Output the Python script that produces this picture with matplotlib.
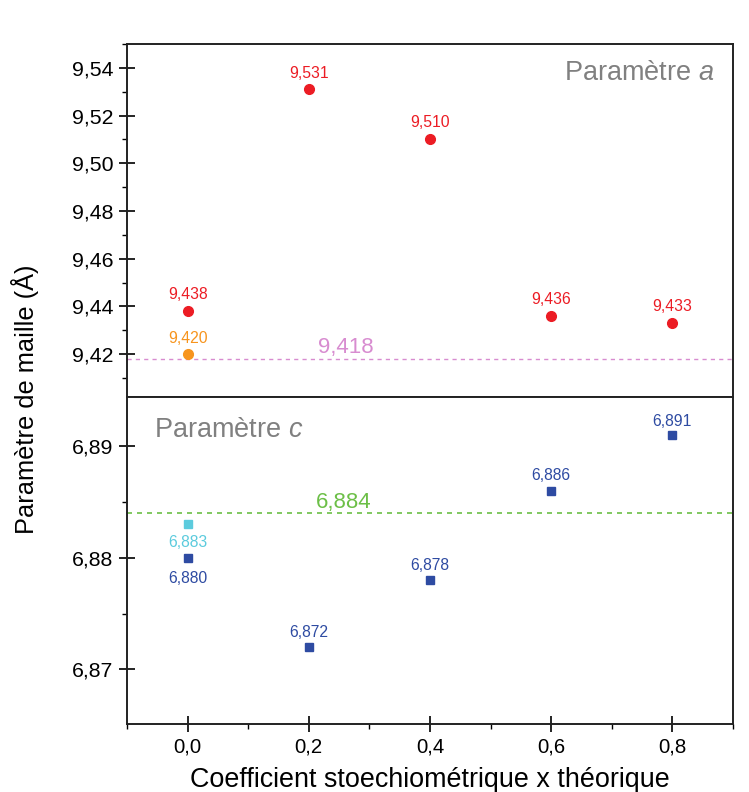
import matplotlib.pyplot as plt
from matplotlib.ticker import FuncFormatter, MultipleLocator

plt.rcParams['font.family'] = ['Liberation Sans', 'DejaVu Sans']
plt.rcParams['mathtext.fontset'] = 'custom'
plt.rcParams['mathtext.rm'] = 'Liberation Sans'
plt.rcParams['mathtext.it'] = 'Liberation Sans:italic'

# paramètre a
x_a = [0.0, 0.2, 0.4, 0.6, 0.8]
a_vals = [9.438, 9.531, 9.510, 9.436, 9.433]
x_a_ref = [0.0]
a_ref = [9.420]
a_theo = 9.418

# paramètre c
x_c = [0.0, 0.2, 0.4, 0.6, 0.8]
c_vals = [6.880, 6.872, 6.878, 6.886, 6.891]
x_c_ref = [0.0]
c_ref = [6.883]
c_theo = 6.884

x_ticks = [0.0, 0.2, 0.4, 0.6, 0.8]

# label offsets (points)
a_offsets = [9, 8, 9, 8.5, 8.5]
c_offsets = [-18.5, 7.5, 7.5, 7.5, 6.5]

red = '#ec1c24'
orange = '#f7941d'
pink = '#d88cd0'
blue = '#2e4ba2'
cyan = '#5ccbdd'
green = '#6cbf47'
gray = '#808080'

fig = plt.figure(figsize=(7.49, 7.92), dpi=100)
L, R = 127 / 749, 733 / 749
ax1 = fig.add_axes([L, 1 - 397 / 792, R - L, (397 - 44) / 792])
ax2 = fig.add_axes([L, 1 - 724 / 792, R - L, (724 - 397) / 792], sharex=ax1)

def fmt(v):
    return lambda val, pos: f'{val:.{v}f}'.replace('.', ',')

def lab(val, n=3):
    return f'{val:.{n}f}'.replace('.', ',')

for ax in (ax1, ax2):
    for s in ax.spines.values():
        s.set_linewidth(1.4)
        s.set_color('#222222')
    ax.tick_params(axis='y', which='major', direction='inout', length=12, width=1.2,
                   labelsize=15.3, pad=4, right=False)
    ax.tick_params(axis='y', which='minor', direction='out', length=3.5, width=1.0, right=False)
    ax.tick_params(axis='x', which='major', direction='inout', length=12, width=1.2,
                   labelsize=14.7, pad=4, top=False)
    ax.tick_params(axis='x', which='minor', direction='out', length=3.5, width=1.0, top=False)

ax1.set_xlim(-0.1, 0.9)
ax1.xaxis.set_major_locator(MultipleLocator(0.2))
ax1.xaxis.set_minor_locator(MultipleLocator(0.1))
ax1.xaxis.set_major_formatter(FuncFormatter(fmt(1)))
ax1.tick_params(axis='x', which='both', bottom=False, labelbottom=False)

# top panel
ax1.set_ylim(9.402, 9.55)
ax1.yaxis.set_major_locator(MultipleLocator(0.02))
ax1.yaxis.set_minor_locator(MultipleLocator(0.01))
ax1.yaxis.set_major_formatter(FuncFormatter(fmt(2)))
ax1.axhline(a_theo, color=pink, linestyle=(0, (3, 3)), linewidth=1.0)
ax1.annotate(lab(a_theo), (0.215, a_theo), xytext=(0, 4), textcoords='offset points',
             color=pink, fontsize=16, ha='left', va='baseline')
ax1.plot(x_a, a_vals, 'o', color=red, markersize=7, zorder=3)
ax1.plot(x_a_ref, a_ref, 'o', color=orange, markersize=7, zorder=3)
for xi, yi, off in zip(x_a, a_vals, a_offsets):
    ax1.annotate(lab(yi), (xi, yi), xytext=(0, off), textcoords='offset points',
                 color=red, fontsize=11.3, ha='center', va='baseline')
for xi, yi in zip(x_a_ref, a_ref):
    ax1.annotate(lab(yi), (xi, yi), xytext=(0, 8), textcoords='offset points',
                 color=orange, fontsize=11.3, ha='center', va='baseline')
ax1.text(0.97, 0.955, r'Paramètre $a$', transform=ax1.transAxes, color=gray,
         fontsize=19.5, ha='right', va='top')

# bottom panel
ax2.set_ylim(6.8651, 6.8944)
ax2.yaxis.set_major_locator(MultipleLocator(0.01))
ax2.yaxis.set_minor_locator(MultipleLocator(0.005))
ax2.yaxis.set_major_formatter(FuncFormatter(fmt(2)))
ax2.set_xticks(x_ticks)
ax2.axhline(c_theo, color=green, linestyle=(0, (3, 3)), linewidth=1.2)
ax2.annotate(lab(c_theo), (0.212, c_theo), xytext=(0, 4), textcoords='offset points',
             color=green, fontsize=16, ha='left', va='baseline')
ax2.plot(x_c, c_vals, 's', color=blue, markersize=6, zorder=3)
ax2.plot(x_c_ref, c_ref, 's', color=cyan, markersize=6, zorder=3)
for xi, yi, off in zip(x_c, c_vals, c_offsets):
    ax2.annotate(lab(yi), (xi, yi), xytext=(0, off), textcoords='offset points',
                 color=blue, fontsize=11.3, ha='center', va='baseline')
for xi, yi in zip(x_c_ref, c_ref):
    ax2.annotate(lab(yi), (xi, yi), xytext=(0, -16.3), textcoords='offset points',
                 color=cyan, fontsize=11.3, ha='center', va='baseline')
ax2.text(0.045, 0.94, r'Paramètre $c$', transform=ax2.transAxes, color=gray,
         fontsize=19.5, ha='left', va='top')

fig.text((L + R) / 2, 1 - 787 / 792, 'Coefficient stoechiométrique x théorique',
         fontsize=19.4, ha='center', va='baseline')
fig.text(0.034, 0.496, 'Paramètre de maille (Å)', rotation=90, fontsize=18.3,
         ha='center', va='center')

fig.savefig('out.png', dpi=100)
